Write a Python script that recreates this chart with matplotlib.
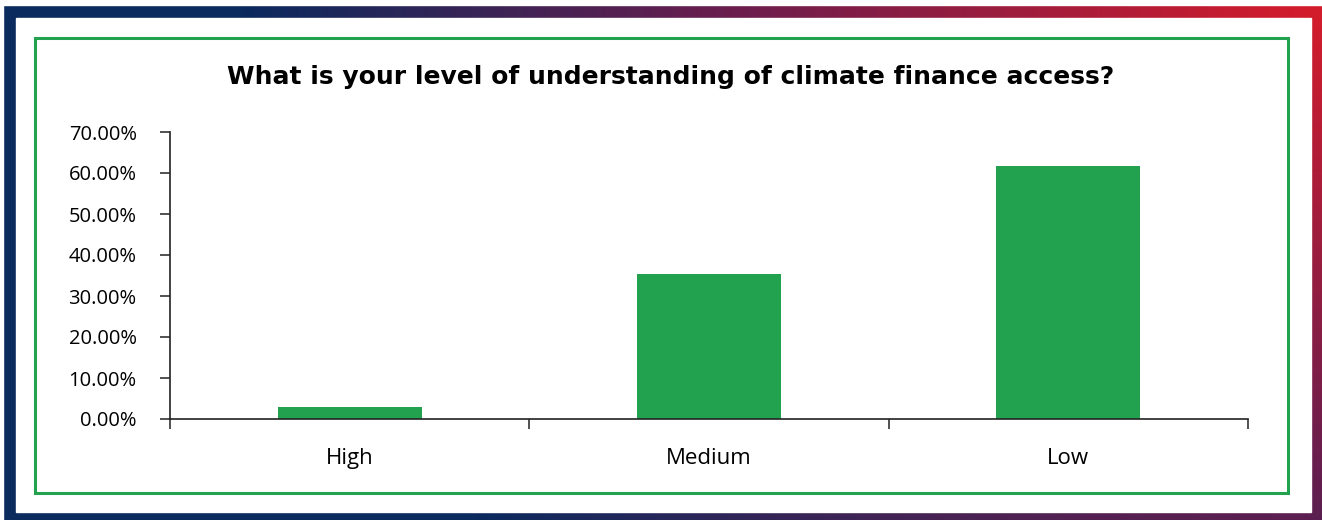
import numpy as np
import matplotlib
matplotlib.use("Agg")
import matplotlib.pyplot as plt
from matplotlib.patches import Rectangle
from matplotlib.ticker import PercentFormatter, FixedLocator

categories = ["High", "Medium", "Low"]
shares = [0.0294, 0.3529, 0.6176]
title = "What is your level of understanding of climate finance access?"

W, H = 1322, 520
green = "#22a14f"

fig = plt.figure(figsize=(W / 100, H / 100), dpi=100)
fig.patch.set_facecolor("white")

# frame: gradient border drawn on a full-figure axes in pixel coords
bg = fig.add_axes([0, 0, 1, 1])
bg.set_xlim(0, W)
bg.set_ylim(H, 0)
bg.axis("off")

yy, xx = np.mgrid[0:H, 0:W]
d = np.hypot(W - xx, 1.3 * yy) / 1200.0
d = np.clip(d, 0, 1)
red = np.array([214, 28, 43]) / 255
mid = np.array([105, 30, 78]) / 255
navy = np.array([11, 42, 94]) / 255
t1 = np.clip(d / 0.5, 0, 1)[..., None]
t2 = np.clip((d - 0.5) / 0.4, 0, 1)[..., None]
grad = np.where(d[..., None] < 0.5, red + (mid - red) * t1, mid + (navy - mid) * t2)
bg.imshow(grad, extent=[0, W, H, 0], aspect="auto", zorder=0)
bg.add_patch(Rectangle((0, 0), W, 5, color="white", zorder=1))
bg.add_patch(Rectangle((0, 0), 3, H, color="white", zorder=1))
bg.add_patch(Rectangle((16, 18), 1311 - 16, 512 - 18, color="white", zorder=1))
bg.add_patch(Rectangle((35, 38), 1288 - 35, 493 - 38, fill=False,
                       edgecolor=green, linewidth=2.2, zorder=2))

# chart area
ax = fig.add_axes([170 / W, 1 - 419 / H, (1248 - 170) / W, (419 - 132) / H])
ax.patch.set_alpha(0)
x = np.arange(len(categories))
ax.bar(x, shares, width=0.4, color=green, zorder=2)

ax.set_xlim(-0.5, len(categories) - 0.5)
ax.set_ylim(0, 0.7)
ax.set_yticks(np.arange(0, 0.71, 0.1))
ax.yaxis.set_major_formatter(PercentFormatter(xmax=1, decimals=2))

ax.xaxis.set_major_locator(FixedLocator(np.arange(-0.5, len(categories), 1)))
ax.xaxis.set_minor_locator(FixedLocator(x))
ax.set_xticklabels([], minor=False)
ax.set_xticklabels(categories, minor=True)

for s in ["top", "right"]:
    ax.spines[s].set_visible(False)
for s in ["left", "bottom"]:
    ax.spines[s].set_linewidth(1.2)
    ax.spines[s].set_color("#222222")

ax.tick_params(axis="y", which="major", direction="out", length=7, width=1.1,
               pad=17, labelsize=14.5, colors="#222222", labelcolor="black")
ax.tick_params(axis="x", which="major", direction="out", length=7, width=1.1,
               colors="#222222")
ax.tick_params(axis="x", which="minor", length=0, pad=21, labelsize=16)
for lab in ax.get_yticklabels() + ax.get_xticklabels(minor=True):
    lab.set_family("Open Sans")

fig.text(671 / W, 1 - 77 / H, title, ha="center", va="center",
         fontsize=18, fontweight="bold", family="DejaVu Sans")

fig.savefig("out.png", dpi=100)
